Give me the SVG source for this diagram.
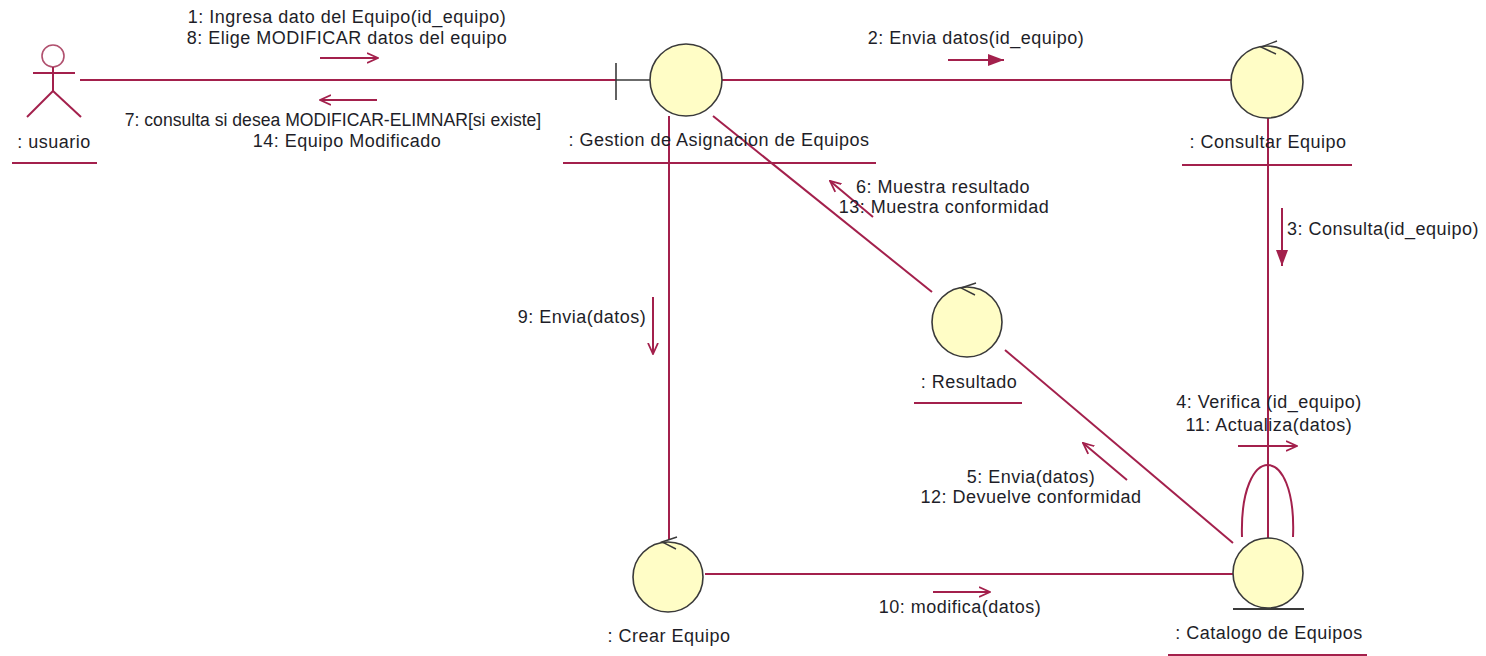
<svg xmlns="http://www.w3.org/2000/svg" width="1486" height="656" viewBox="0 0 1486 656">
<style>
text{font-family:"Liberation Sans",Arial,sans-serif;font-size:18px;fill:#1e1e28;letter-spacing:0.5px}
.tight{letter-spacing:0;font-size:17.6px}
.c{stroke:#A3204C;stroke-width:2;fill:none}
.u{stroke:#A3204C;stroke-width:2}
.obj{fill:#FFFDC6;stroke:#3a3a3a;stroke-width:1.6}
.ctl{stroke:#3a3a3a;stroke-width:1.4;fill:none}
.m{stroke:#A3204C;stroke-width:2;fill:none}
</style>
<defs>
<marker id="open" viewBox="0 0 12 12" refX="11" refY="6" markerWidth="12" markerHeight="12" markerUnits="userSpaceOnUse" orient="auto">
<path d="M0,1 L11,6 L0,11" fill="none" stroke="#A3204C" stroke-width="1.8"/>
</marker>
<marker id="fill" viewBox="0 0 16 12" refX="16" refY="6" markerWidth="16" markerHeight="12" markerUnits="userSpaceOnUse" orient="auto">
<path d="M0,0 L16,6 L0,12 Z" fill="#A3204C"/>
</marker>
</defs>

<g id="connectors">
<line class="c" x1="80" y1="80" x2="616" y2="80"/>
<line class="c" x1="722" y1="80" x2="1232" y2="80"/>
<line class="c" x1="1268" y1="118" x2="1268" y2="538"/>
<line class="c" x1="669" y1="116" x2="669" y2="540"/>
<line class="c" x1="705" y1="574" x2="1233" y2="574"/>
<line class="c" x1="713" y1="116" x2="932" y2="292"/>
<line class="c" x1="1005" y1="350" x2="1233" y2="543"/>
<path class="c" d="M1242,537 C1239,441 1297,441 1293,537"/>
</g>

<g id="messages">
<line class="m" x1="320" y1="58" x2="378" y2="58" marker-end="url(#open)"/>
<text x="347" y="23" text-anchor="middle">1: Ingresa dato del Equipo(id_equipo)</text>
<text x="347" y="44" text-anchor="middle">8: Elige MODIFICAR datos del equipo</text>
<line class="m" x1="377" y1="100" x2="320" y2="100" marker-end="url(#open)"/>
<text class="tight" x="333" y="126" text-anchor="middle">7: consulta si desea MODIFICAR-ELIMNAR[si existe]</text>
<text x="347" y="147" text-anchor="middle">14: Equipo Modificado</text>

<line class="m" x1="948" y1="60" x2="1004" y2="60" marker-end="url(#fill)"/>
<text x="976" y="44" text-anchor="middle">2: Envia datos(id_equipo)</text>

<line class="m" x1="1282" y1="208" x2="1282" y2="266" marker-end="url(#fill)"/>
<text x="1287" y="235">3: Consulta(id_equipo)</text>

<line class="m" x1="1238" y1="446" x2="1297" y2="446" marker-end="url(#open)"/>
<text x="1269" y="408" text-anchor="middle">4: Verifica (id_equipo)</text>
<text x="1269" y="431" text-anchor="middle">11: Actualiza(datos)</text>

<line class="m" x1="1127" y1="480" x2="1083" y2="443" marker-end="url(#open)"/>
<text x="1031" y="483" text-anchor="middle">5: Envia(datos)</text>
<text x="1031" y="503" text-anchor="middle">12: Devuelve conformidad</text>

<line class="m" x1="873" y1="217" x2="830" y2="181" marker-end="url(#open)"/>
<text x="943" y="193" text-anchor="middle">6: Muestra resultado</text>
<text x="944" y="213" text-anchor="middle">13: Muestra conformidad</text>

<line class="m" x1="653" y1="297" x2="653" y2="354" marker-end="url(#open)"/>
<text x="582" y="323" text-anchor="middle">9: Envia(datos)</text>

<line class="m" x1="933" y1="592" x2="990" y2="592" marker-end="url(#open)"/>
<text x="960" y="613" text-anchor="middle">10: modifica(datos)</text>
</g>

<g id="usuario">
<circle cx="53" cy="56" r="11" fill="none" stroke="#B0506E" stroke-width="1.6"/>
<line class="u" x1="53" y1="67" x2="53" y2="91"/>
<line class="u" x1="33" y1="73" x2="75" y2="73"/>
<line class="u" x1="53" y1="91" x2="27" y2="117"/>
<line class="u" x1="53" y1="91" x2="81" y2="117"/>
<text x="54" y="148" text-anchor="middle">: usuario</text>
<line class="u" x1="12" y1="163" x2="97" y2="163"/>
</g>

<g id="gestion">
<line x1="616" y1="63" x2="616" y2="100" stroke="#3a3a3a" stroke-width="1.6"/>
<line x1="616" y1="80" x2="650" y2="80" stroke="#3a3a3a" stroke-width="1.6"/>
<circle class="obj" cx="686" cy="80" r="36"/>
<text x="719" y="146" text-anchor="middle">: Gestion de Asignacion de Equipos</text>
<line class="u" x1="563" y1="163" x2="876" y2="163"/>
</g>

<g id="consultar">
<circle class="obj" cx="1267" cy="82" r="36"/>
<path class="ctl" d="M1277,41 L1261,47 L1276,54"/>
<text x="1268" y="148" text-anchor="middle">: Consultar Equipo</text>
<line class="u" x1="1182" y1="165" x2="1352" y2="165"/>
</g>

<g id="resultado">
<circle class="obj" cx="967" cy="322" r="35"/>
<path class="ctl" d="M976,283 L961,288 L975,295"/>
<text x="969" y="388" text-anchor="middle">: Resultado</text>
<line class="u" x1="914" y1="403" x2="1022" y2="403"/>
</g>

<g id="crear">
<circle class="obj" cx="668" cy="577" r="35"/>
<path class="ctl" d="M677,537 L662,542 L676,549"/>
<text x="669" y="642" text-anchor="middle">: Crear Equipo</text>
</g>

<g id="catalogo">
<circle class="obj" cx="1268" cy="573" r="35"/>
<line x1="1233" y1="609" x2="1304" y2="609" stroke="#3a3a3a" stroke-width="2"/>
<text x="1269" y="639" text-anchor="middle">: Catalogo de Equipos</text>
<line class="u" x1="1168" y1="655" x2="1367" y2="655"/>
</g>
</svg>
